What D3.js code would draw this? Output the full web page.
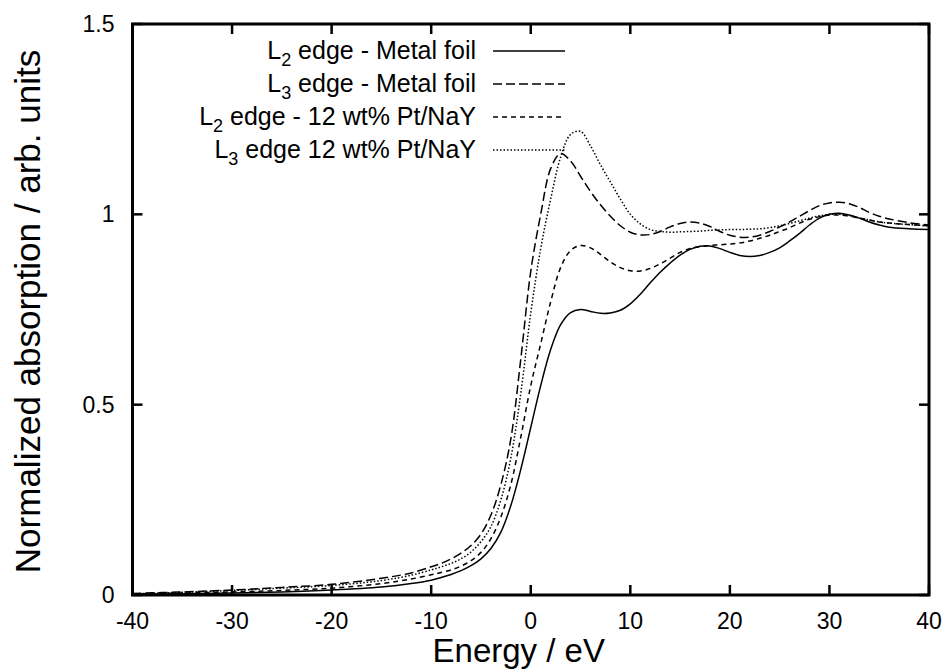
<!DOCTYPE html>
<html>
<head>
<meta charset="utf-8">
<script src="https://cdn.jsdelivr.net/npm/d3@7"></script>
<style>
  body { margin: 0; background: #fff; }
  svg { display: block; font-family: "Liberation Sans", Arial, sans-serif; }
</style>
</head>
<body>
<div id="chart"></div>
<script>
// energy grid (eV) and the four normalized absorption curves
const energy = [-40, -35, -30, -25, -20, -15, -12, -10, -9, -8, -7, -6, -5, -4, -3, -2, -1, 0, 1, 2, 3, 4, 5, 6, 7, 8, 9, 10,
  11, 12, 13, 14, 15, 16, 17, 18, 19, 20, 21, 22, 23, 24, 25, 26, 27, 28, 29, 30, 31, 32, 33, 34, 35, 36, 38, 40];

const l2Foil = [0.002, 0.003, 0.005, 0.008, 0.013, 0.021, 0.03, 0.039, 0.046, 0.054, 0.064, 0.077, 0.095, 0.122, 0.165, 0.235, 0.33, 0.44, 0.55, 0.645, 0.71, 0.742, 0.75, 0.745, 0.74, 0.741, 0.748,
  0.765, 0.79, 0.82, 0.848, 0.872, 0.893, 0.908, 0.916, 0.917, 0.91, 0.9, 0.892, 0.889, 0.892, 0.9, 0.912, 0.93, 0.95, 0.972, 0.99, 1.0, 1.003, 0.998, 0.99, 0.98, 0.972, 0.966, 0.962, 0.96];

const l3Foil = [0.004, 0.008, 0.013, 0.02, 0.028, 0.044, 0.058, 0.074, 0.083, 0.095, 0.11, 0.13, 0.16, 0.21, 0.29, 0.41, 0.62, 0.85, 1.0, 1.12, 1.16, 1.14, 1.1, 1.06, 1.025, 0.995, 0.97,
  0.953, 0.946, 0.947, 0.955, 0.967, 0.976, 0.98, 0.977, 0.968, 0.955, 0.945, 0.94, 0.94, 0.945, 0.955, 0.967, 0.98, 0.995, 1.01, 1.023, 1.03, 1.032, 1.028, 1.018, 1.005, 0.995, 0.988, 0.978, 0.972];

const l2NaY = [0.003, 0.005, 0.008, 0.012, 0.018, 0.03, 0.042, 0.053, 0.059, 0.066, 0.076, 0.09, 0.112, 0.148, 0.205, 0.29, 0.415, 0.55, 0.66, 0.77, 0.86, 0.905, 0.918, 0.912, 0.895, 0.875, 0.86,
  0.852, 0.851, 0.858, 0.87, 0.885, 0.9, 0.91, 0.915, 0.918, 0.92, 0.922, 0.925, 0.93, 0.937, 0.945, 0.955, 0.965, 0.977, 0.987, 0.994, 0.998, 0.998, 0.995, 0.99, 0.985, 0.98, 0.977, 0.973, 0.97];

const l3NaY = [0.003, 0.007, 0.012, 0.018, 0.025, 0.038, 0.052, 0.066, 0.074, 0.083, 0.095, 0.113, 0.14, 0.18, 0.25, 0.36, 0.53, 0.74, 0.91, 1.04, 1.15, 1.21, 1.218, 1.18, 1.13, 1.085, 1.04,
  1.0, 0.975, 0.96, 0.955, 0.953, 0.954, 0.955, 0.956, 0.958, 0.959, 0.96, 0.96, 0.961, 0.962, 0.965, 0.97, 0.976, 0.983, 0.99, 0.996, 1.0, 1.0, 0.997, 0.99, 0.985, 0.98, 0.977, 0.973, 0.97];

const xTicks = [-40, -30, -20, -10, 0, 10, 20, 30, 40];
const yTicks = [0, 0.5, 1, 1.5];

const series = [
  { sub: "2", label: " edge - Metal foil", values: l2Foil, dash: null },
  { sub: "3", label: " edge - Metal foil", values: l3Foil, dash: "9,4" },
  { sub: "2", label: " edge - 12 wt% Pt/NaY", values: l2NaY, dash: "5,4" },
  { sub: "3", label: " edge 12 wt% Pt/NaY", values: l3NaY, dash: "1.5,2" }
];

const W = 948, H = 671;
const margin = { top: 24, right: 19, bottom: 76, left: 132.5 };
const plotW = W - margin.left - margin.right;
const plotH = H - margin.top - margin.bottom;

const svg = d3.select("#chart").append("svg")
  .attr("width", W)
  .attr("height", H);

const x = d3.scaleLinear().domain([-40, 40]).range([margin.left, margin.left + plotW]);
const y = d3.scaleLinear().domain([0, 1.5]).range([margin.top + plotH, margin.top]);

// ticks on all four sides, pointing inward
const tickLen = 10;
const ticks = svg.append("g").attr("stroke", "#000").attr("stroke-width", 2.5);
xTicks.forEach(function (t) {
  ticks.append("line").attr("x1", x(t)).attr("x2", x(t)).attr("y1", y(0)).attr("y2", y(0) - tickLen);
  ticks.append("line").attr("x1", x(t)).attr("x2", x(t)).attr("y1", y(1.5)).attr("y2", y(1.5) + tickLen);
});
yTicks.forEach(function (t) {
  ticks.append("line").attr("x1", x(-40)).attr("x2", x(-40) + tickLen).attr("y1", y(t)).attr("y2", y(t));
  ticks.append("line").attr("x1", x(40)).attr("x2", x(40) - tickLen).attr("y1", y(t)).attr("y2", y(t));
});

// tick labels
svg.append("g").selectAll("text")
  .data(xTicks)
  .enter().append("text")
  .attr("x", function (d) { return x(d); })
  .attr("y", y(0) + 34)
  .attr("text-anchor", "middle")
  .attr("font-size", 23)
  .text(function (d) { return d; });

svg.append("g").selectAll("text")
  .data(yTicks)
  .enter().append("text")
  .attr("x", x(-40) - 18)
  .attr("y", function (d) { return y(d) + 8; })
  .attr("text-anchor", "end")
  .attr("font-size", 23)
  .text(function (d) { return d; });

// axis titles
svg.append("text")
  .attr("x", x(0) - 12)
  .attr("y", H - 9)
  .attr("text-anchor", "middle")
  .attr("font-size", 33)
  .text("Energy / eV");

svg.append("text")
  .attr("transform", "translate(40," + (margin.top + plotH / 2 + 2) + ") rotate(-90)")
  .attr("text-anchor", "middle")
  .attr("font-size", 35)
  .text("Normalized absorption / arb. units");

// curves
const line = d3.line()
  .x(function (d) { return x(d[0]); })
  .y(function (d) { return y(d[1]); })
  .curve(d3.curveCatmullRom.alpha(0.5));

series.forEach(function (s) {
  svg.append("path")
    .datum(energy.map(function (e, i) { return [e, s.values[i]]; }))
    .attr("fill", "none")
    .attr("stroke", "#000")
    .attr("stroke-width", 1.5)
    .attr("stroke-dasharray", s.dash)
    .attr("d", line);
});

// legend (gnuplot style: text right-aligned, sample to the right)
const legend = svg.append("g");
series.forEach(function (s, i) {
  const ly = 51 + i * 33;
  const t = legend.append("text")
    .attr("x", 476)
    .attr("y", ly + 8)
    .attr("text-anchor", "end")
    .attr("font-size", 25);
  t.append("tspan").text("L");
  t.append("tspan").attr("font-size", 18).attr("dy", 7).text(s.sub);
  t.append("tspan").attr("dy", -7).text(s.label);
  legend.append("line")
    .attr("x1", 493).attr("x2", 565)
    .attr("y1", ly).attr("y2", ly)
    .attr("stroke", "#000")
    .attr("stroke-width", 1.5)
    .attr("stroke-dasharray", s.dash);
});

// frame
svg.append("rect")
  .attr("x", x(-40)).attr("y", y(1.5))
  .attr("width", plotW).attr("height", plotH)
  .attr("fill", "none")
  .attr("stroke", "#000")
  .attr("stroke-width", 3);
</script>
</body>
</html>
